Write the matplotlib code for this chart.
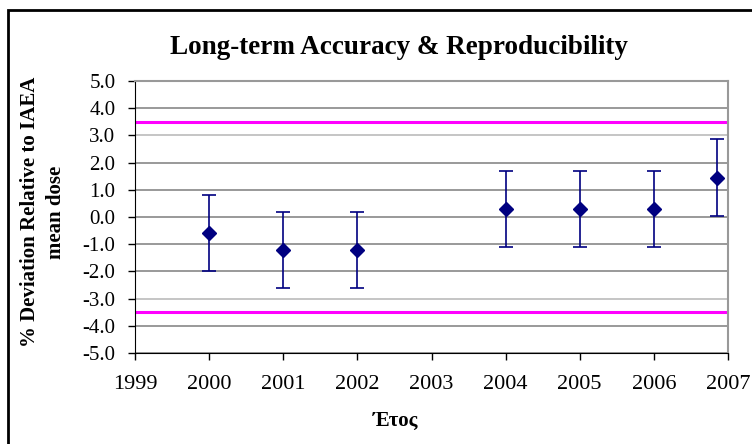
from matplotlib import pyplot as plt
from matplotlib.patches import Rectangle

# data
years = [2000, 2001, 2002, 2004, 2005, 2006, 2006.85]
deviation = [-0.6, -1.2, -1.2, 0.3, 0.3, 0.3, 1.45]
errors = [1.4, 1.4, 1.4, 1.4, 1.4, 1.4, 1.4]
limits = [3.5, -3.5]
yTicks = [-5, -4, -3, -2, -1, 0, 1, 2, 3, 4, 5]
xTicks = [1999, 2000, 2001, 2002, 2003, 2004, 2005, 2006, 2007]

plt.rcParams['font.family'] = ['Liberation Serif', 'DejaVu Serif']

W, H = 752, 444
fig = plt.figure(figsize=(W / 100, H / 100), dpi=100)
ax = fig.add_axes([135 / W, (H - 353) / H, (728 - 135) / W, (353 - 81) / H])

#Outer chart frame
fig.patches.append(Rectangle((8 / W, -0.1), 1.2, 1.1 - 10 / H, transform=fig.transFigure,
                             fill=False, edgecolor='black', linewidth=2))

#Horizontal gridlines
for y in yTicks:
    color = '#bbbbbb' if abs(y) == 3 else '#888888'
    ax.axhline(y, color=color, linewidth=1.2, zorder=1)

#Tolerance limits
for lim in limits:
    ax.axhline(lim, color='#ff00ff', linewidth=2.2, zorder=2)

ax.errorbar(years, deviation, yerr=errors, fmt='D', color='#000080', markersize=7.5,
            elinewidth=1.2, capsize=4.7, capthick=1.2, zorder=3)

ax.set_xlim(1999, 2007)
ax.set_ylim(-5, 5)
ax.set_xticks(xTicks)
ax.set_xticklabels([str(x) for x in xTicks], fontsize=16)
ax.set_yticks(yTicks)
ax.set_yticklabels(['%.1f' % y for y in yTicks], fontsize=15)
ax.tick_params(axis='x', direction='out', length=5, width=1, pad=11)
ax.tick_params(axis='y', direction='out', length=5, width=1, pad=9)

for side in ['top', 'right']:
    ax.spines[side].set_color('#999999')
    ax.spines[side].set_linewidth(1.5)
for side in ['left', 'bottom']:
    ax.spines[side].set_color('black')

fig.text(395 / W, 1 - 421 / H, 'Έτος', ha='center', va='center',
         fontsize=15, fontweight='bold')
fig.text(43 / W, 1 - 212 / H, '% Deviation Relative to IAEA\nmean dose', ha='center',
         va='center', rotation=90, multialignment='center', fontsize=15,
         fontweight='bold', linespacing=1.4)
fig.text(399 / W, 1 - 47 / H, 'Long-term Accuracy & Reproducibility',
         ha='center', va='center', fontsize=19.5, fontweight='bold')

fig.savefig('out.png', dpi=100)
